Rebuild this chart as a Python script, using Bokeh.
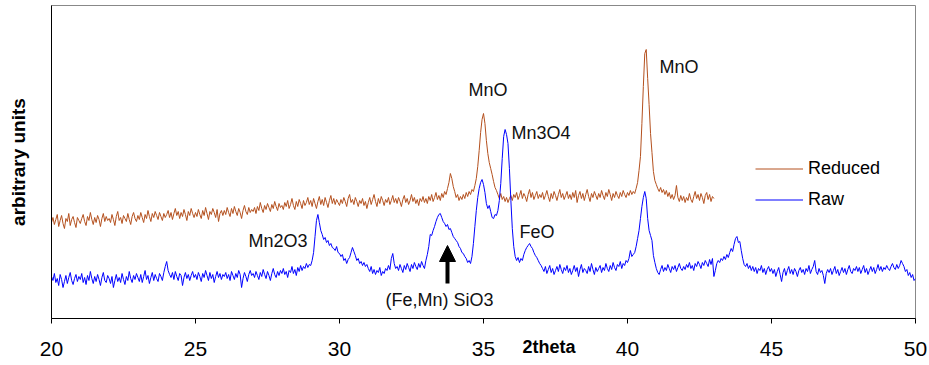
import numpy as np
from bokeh.plotting import figure
from bokeh.models import Range1d, FixedTicker, Label, Arrow, NormalHead, Legend, LegendItem
from bokeh.embed import file_html
from bokeh.resources import INLINE

# ---------------- data (y in arbitrary units) ----------------
STEP = 0.05
raw_rows = [
    [42,38,45,36,40,33,44,39,31,37,43,35,41,46,38,34,40,44,37,42],   # 20
    [39,45,36,41,34,43,38,47,40,35,42,37,44,39,33,41,46,38,36,43],   # 21
    [40,35,42,31,38,44,37,41,36,45,39,34,42,38,47,40,36,43,39,45],   # 22
    [41,37,44,36,42,48,39,43,35,41,46,38,44,40,37,45,42,38,46,52],   # 23
    [57,48,44,41,46,39,47,42,38,45,43,33,41,46,40,44,38,43,47,41],   # 24
    [44,39,46,42,37,45,41,48,43,38,46,40,44,36,42,47,41,45,39,44],   # 25
    [42,46,40,44,38,47,43,39,45,41,48,44,31,40,46,42,37,44,48,43],   # 26
    [45,41,47,43,39,46,42,49,44,40,47,43,38,45,50,44,41,47,43,48],   # 27
    [45,50,44,47,41,48,46,52,45,49,43,51,47,53,48,52,50,55,51,54],   # 28
    [53,58,66,82,98,104,96,88,84,79,81,76,78,73,75,71,70,68,72,66],  # 29
    [65,62,64,58,60,55,59,61,66,71,67,63,58,60,55,57,53,56,52,54],   # 30
    [50,47,52,45,49,44,48,46,51,43,47,45,50,48,53,49,60,65,55,50],   # 31
    [52,48,54,50,46,53,49,55,51,47,54,50,56,52,49,55,51,57,53,50],   # 32
    [58,64,72,84,83,88,92,97,101,104,105,101,97,95,92,94,89,90,86,82],          # 33
    [80,78,76,72,70,66,65,62,60,56,58,55,62,75,92,108,121,130,136,139],         # 34
    [134,126,115,110,113,107,101,100,104,103,108,118,135,160,182,189,184,175,150,118],  # 35
    [90,72,62,58,61,56,60,58,64,68,71,73,75,72,70,66,63,61,58,55],   # 36
    [53,50,47,52,45,49,53,46,50,44,48,52,47,54,49,45,51,48,53,46],   # 37
    [50,44,48,53,47,51,42,49,54,46,50,48,45,52,47,55,49,44,51,47],   # 38
    [50,53,46,51,48,55,50,47,53,49,56,51,48,54,52,57,50,55,53,58],   # 39
    [56,60,68,62,64,66,72,80,88,100,112,121,127,120,100,88,83,78,63,56],  # 40
    [50,46,44,49,53,47,51,48,54,50,46,52,49,53,47,51,55,50,48,52],   # 41
    [49,54,51,56,50,53,48,55,52,57,54,50,56,53,58,55,52,59,54,60],   # 42
    [42,48,55,58,56,60,58,62,59,64,61,66,70,67,74,80,82,76,77,68],   # 43
    [60,54,52,55,50,53,48,52,47,51,45,50,48,53,46,50,44,49,52,47],   # 44
    [50,45,49,42,47,51,44,37,46,50,43,48,52,45,49,44,50,47,42,48],   # 45
    [51,46,49,44,50,47,53,45,49,52,58,47,44,50,46,48,43,35,45,49],   # 46
    [46,50,44,48,52,45,49,43,47,51,46,50,44,49,53,47,45,50,48,52],   # 47
    [47,51,45,49,53,46,50,44,48,52,47,51,45,49,54,48,52,47,51,49],   # 48
    [53,50,48,52,55,51,49,54,50,53,58,55,52,47,49,43,46,41,44,38],   # 49
    [40],                                                            # 50
]
reduced_rows = [
    [96,101,94,99,104,92,98,103,95,90,100,97,105,93,99,102,96,91,101,98],          # 20
    [95,100,104,97,93,102,98,106,99,94,101,96,103,99,92,100,105,97,102,98],        # 21
    [100,96,104,99,93,102,107,98,101,95,103,100,97,105,99,94,102,106,100,97],      # 22
    [103,99,106,101,96,104,100,108,102,97,105,101,107,103,99,106,102,98,105,101],  # 23
    [104,108,101,106,99,105,110,103,107,100,106,102,109,104,98,107,103,110,105,101],  # 24
    [106,102,109,104,100,108,103,111,105,99,107,104,110,106,101,109,97,105,108,103],  # 25
    [108,104,111,106,102,110,105,112,107,103,110,106,100,108,113,107,104,111,106,109],  # 26
    [107,111,105,112,108,116,110,106,113,109,115,111,107,114,110,117,112,108,115,111],  # 27
    [113,109,116,112,118,110,114,120,113,109,117,112,119,115,110,118,113,116,121,114],  # 28
    [118,112,120,115,110,117,122,114,119,113,121,116,111,118,123,115,120,114,119,116],  # 29
    [113,119,115,121,117,112,120,124,116,119,114,121,117,112,118,115,120,113,117,110],  # 30
    [116,121,114,119,124,117,112,120,115,122,118,113,119,116,121,114,118,123,116,120],  # 31
    [115,121,117,112,119,123,116,120,114,118,124,117,121,115,119,113,120,117,122,116],  # 32
    [120,115,122,118,124,117,121,126,119,123,118,125,121,127,124,130,136,145,140,132],  # 33
    [127,121,124,118,122,119,124,120,126,122,127,124,129,127,133,140,152,168,186,199],  # 34
    [205,195,178,165,156,150,144,137,131,128,124,120,125,119,122,117,121,116,120,123],  # 35
    [118,124,121,126,119,123,128,120,125,122,117,124,129,121,126,119,123,127,120,124],  # 36
    [121,126,119,123,128,122,117,125,120,127,123,118,124,129,121,125,119,123,127,120],  # 37
    [124,119,126,121,128,116,123,127,120,125,118,124,129,122,117,125,121,127,123,119],  # 38
    [125,121,128,123,119,126,122,129,124,118,125,121,127,123,120,126,122,128,124,121],  # 39
    [126,123,128,124,127,125,130,136,148,162,195,232,265,269,240,214,185,166,147,138],  # 40
    [134,130,127,131,126,129,124,128,122,126,120,124,119,123,133,121,117,123,118,122],  # 41
    [116,121,118,125,119,116,122,127,120,124,118,125,121,115,123,126,119,124,117,122],  # 42
    [120],                                                                              # 43
]
series_names = ["Reduced", "Raw"]
x_ticks = [20, 25, 30, 35, 40, 45, 50]
x_title = "2theta"
y_title = "arbitrary units"
annotations = [
    ("MnO", 34.48, 229),
    ("Mn3O4", 35.97, 186),
    ("MnO", 41.11, 252),
    ("Mn2O3", 26.84, 78),
    ("FeO", 36.25, 87),
    ("(Fe,Mn) SiO3", 31.60, 19),
]
arrow_x = 33.75
arrow_y = (35, 73)


def flatten(rows, start):
    xs, ys = [], []
    for i, row in enumerate(rows):
        for j, v in enumerate(row):
            xs.append(round(start + i + STEP * j, 2))
            ys.append(v)
    return xs, ys


raw_x, raw_y = flatten(raw_rows, 20)
red_x, red_y = flatten(reduced_rows, 20)

FONT = "Liberation Sans"

p = figure(width=929, height=365, output_backend="svg", toolbar_location=None,
           x_range=Range1d(20, 50), y_range=Range1d(0, 313),
           min_border_left=51, min_border_right=14, min_border_top=5, min_border_bottom=47)
p.background_fill_color = "white"
p.border_fill_color = "white"
p.outline_line_color = "#888888"
p.grid.visible = False

r_red = p.line(red_x, red_y, line_color="#B4501E", line_width=1)
r_raw = p.line(raw_x, raw_y, line_color="#0000FF", line_width=1)

# x axis
xa = p.xaxis[0]
xa.ticker = FixedTicker(ticks=x_ticks)
xa.minor_tick_line_color = None
xa.major_tick_in = 0
xa.major_tick_out = 5
xa.major_tick_line_color = "black"
xa.axis_line_color = "black"
xa.major_label_text_font = FONT
xa.major_label_text_font_size = "21px"
xa.major_label_text_color = "black"
xa.major_label_standoff = 18
# the x title sits on the tick-label row, right of "35" (label is centred, so pad its left side)
xa.axis_label = "\u2003" * 7 + "\u00a0" + x_title
xa.axis_label_text_font = FONT
xa.axis_label_text_font_size = "18px"
xa.axis_label_text_font_style = "bold"
xa.axis_label_text_color = "black"
xa.axis_label_standoff = -22

# y axis
ya = p.yaxis[0]
ya.ticker = FixedTicker(ticks=[])
ya.minor_tick_line_color = None
ya.major_tick_line_color = None
ya.major_tick_out = 0
ya.major_tick_in = 0
ya.axis_line_color = "black"
ya.axis_label = y_title
ya.axis_label_text_font = FONT
ya.axis_label_text_font_size = "19px"
ya.axis_label_text_font_style = "bold"
ya.axis_label_text_color = "black"
ya.axis_label_standoff = 23

for txt, xv, yv in annotations:
    p.add_layout(Label(x=xv, y=yv, text=txt, text_font=FONT, text_font_size="18px",
                       text_color="#111111", text_baseline="alphabetic", text_align="left"))

p.add_layout(Arrow(end=NormalHead(size=16, fill_color="black", line_color="black"),
                   x_start=arrow_x, y_start=arrow_y[0], x_end=arrow_x, y_end=arrow_y[1],
                   line_width=4, line_color="black"))

legend = Legend(items=[LegendItem(label=series_names[0], renderers=[r_red]),
                       LegendItem(label=series_names[1], renderers=[r_raw])],
                location=(704, 108))
legend.label_text_font = FONT
legend.label_text_font_size = "18px"
legend.label_text_color = "black"
legend.glyph_width = 48
legend.glyph_height = 21
legend.label_height = 21
legend.label_standoff = 5
legend.spacing = 10
legend.padding = 0
legend.margin = 0
legend.border_line_color = None
legend.background_fill_alpha = 0
p.add_layout(legend)

open("out.html", "w").write(file_html(p, INLINE))
